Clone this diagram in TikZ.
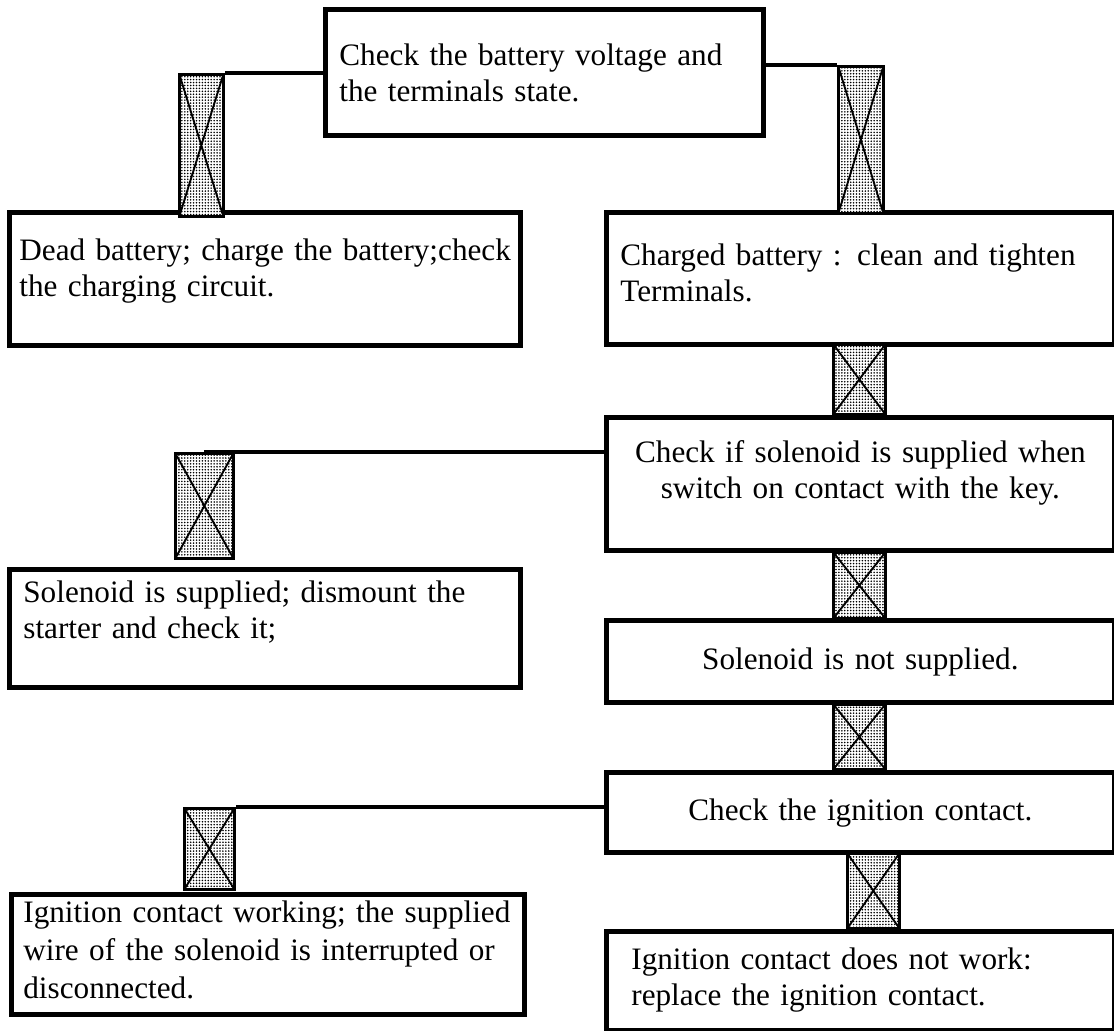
\documentclass[tikz,border=0pt]{standalone}
\usepackage{fontspec}
\setmainfont{Liberation Serif}
\usetikzlibrary{patterns.meta}
\tikzset{
flow/.style={x=0.375pt,y=-0.375pt},
stepbox/.style={rectangle,draw,line width=1.8pt,inner xsep=5.25pt,inner ysep=0pt,
anchor=north west,align=left,font=\fontsize{11.7pt}{13.5pt}\selectfont},
link/.style={rectangle,draw,line width=1pt,inner sep=0pt,anchor=north west,
preaction={fill=white},pattern={Dots[distance=1.1pt,radius=0.33pt]},
path picture={\draw[line width=0.7pt]
(path picture bounding box.north west) -- (path picture bounding box.south east)
(path picture bounding box.north east) -- (path picture bounding box.south west);}},
wire/.style={line width=1.4pt},
}

\begin{document}
\begin{tikzpicture}[flow]
                \useasboundingbox (0,0) rectangle (1114,1030);
                \node[stepbox,text width=153.75pt,text height=21pt,text depth=26.25pt] (battery) at (323,7) {Check the battery voltage and\\the terminals state.};
                \node[stepbox,inner xsep=3.75pt,text width=184.125pt,text height=18pt,text depth=31.875pt] (dead) at (7,210) {\mbox{Dead battery; charge the battery;check}\\the charging circuit.};
                \node[stepbox,text width=180pt,text height=19.875pt,text depth=29.625pt] (charged) at (604,210) {Charged battery : clean and tighten\\Terminals.};
                \node[stepbox,align=center,text width=180pt,text height=16.875pt,text depth=33pt] (solcheck) at (604,415) {Check if solenoid is supplied when\\switch on contact with the key.};
                \node[stepbox,text width=181.125pt,text height=12.375pt,text depth=31.875pt] (supplied) at (7,567) {Solenoid is supplied; dismount the\\starter and check it;};
                \node[stepbox,align=center,text width=180pt,text height=18.375pt,text depth=12.375pt] (notsupplied) at (604,618) {Solenoid is not supplied.};
                \node[stepbox,align=center,text width=180pt,text height=18pt,text depth=12pt] (ignition) at (604,770) {Check the ignition contact.};
                \node[stepbox,inner xsep=4.5pt,text width=183.375pt,text height=10.5pt,text depth=34.5pt,font=\fontsize{11.7pt}{14.25pt}\selectfont] (working) at (9,892) {Ignition contact working; the supplied\\wire of the solenoid is interrupted or\\disconnected.};
                \node[stepbox,inner xsep=9.375pt,text width=171.75pt,text height=14.25pt,text depth=22.875pt] (notworking) at (604,929) {Ignition contact does not work:\\replace the ignition contact.};

                % crossed links between the steps
                \node[link,minimum width=16.5pt,minimum height=53.25pt] (l1) at (178,73) {};
                \node[link,minimum width=16.875pt,minimum height=55.125pt] (l2) at (837,65) {};
                \node[link,minimum width=19.5pt,minimum height=26.25pt] (l3) at (832,343) {};
                \node[link,minimum width=21.75pt,minimum height=39.375pt] (l4) at (174,452) {};
                \node[link,minimum width=19.5pt,minimum height=24.75pt] (l5) at (832,551) {};
                \node[link,minimum width=19.5pt,minimum height=24.375pt] (l6) at (832,703) {};
                \node[link,minimum width=18.75pt,minimum height=30.375pt] (l7) at (183,807) {};
                \node[link,minimum width=19.5pt,minimum height=28.125pt] (l8) at (846,852) {};

                \draw[wire] (battery.west |- l1.north) -- (l1.north east);
                \draw[wire] (battery.east |- l2.north) -- (l2.north west);
                \draw[wire] (solcheck.west |- l4.north) -- (l4.north);
                \draw[wire] (ignition.west |- l7.north) -- (l7.north east);
\end{tikzpicture}
\end{document}
